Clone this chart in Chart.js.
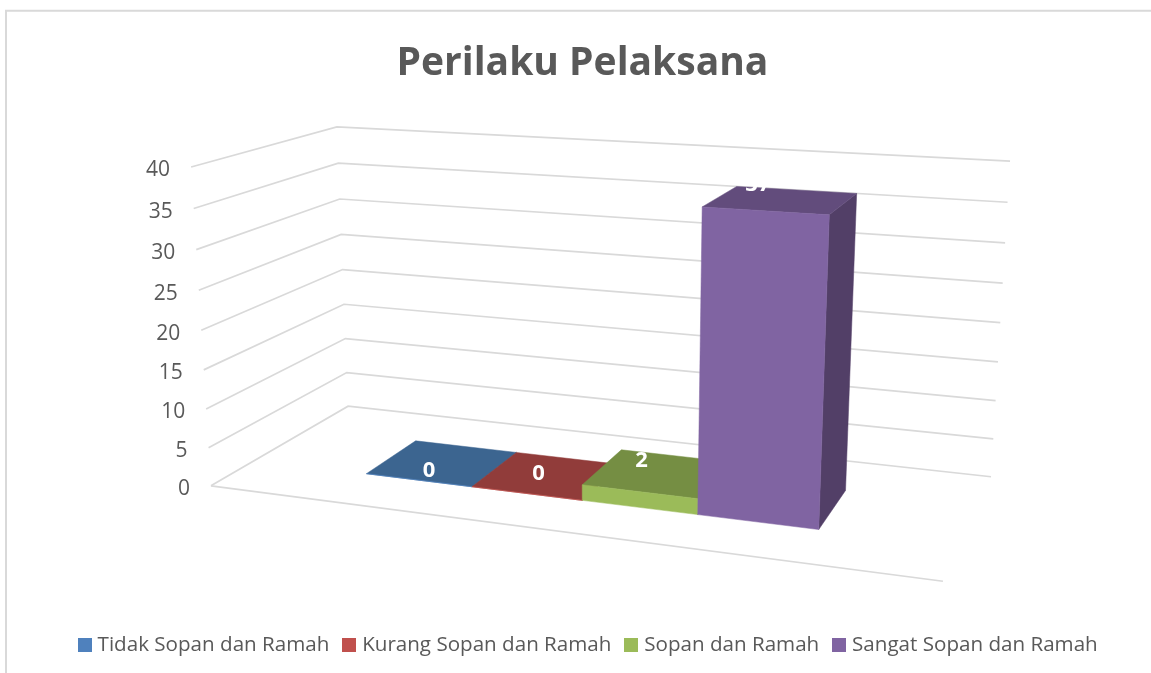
<!DOCTYPE html>
<html><head><meta charset="utf-8">
<style>html,body{margin:0;padding:0;background:#fff}#wrap{width:1151px;height:673px;position:relative}</style>
<script src="https://cdn.jsdelivr.net/npm/chart.js@4"></script>
</head><body><div id="wrap"><canvas id="c" width="1151" height="673"></canvas></div>
<script>
const titleText = 'Perilaku Pelaksana';
const categories = [''];
const seriesNames = ['Tidak Sopan dan Ramah','Kurang Sopan dan Ramah','Sopan dan Ramah','Sangat Sopan dan Ramah'];
const seriesValues = [0,0,2,37];
const frontColors = ['#4f81bd','#c0504d','#9bbb59','#8064a2'];
const topColors = ['#3c6590','#913c3a','#758e43','#624c7c'];
const sideColors = ['#325478','#793230','#617637','#523f67'];
const yMax = 40, yStep = 5;
const FONT = '"Open Sans", sans-serif';
const TEXT = '#595959', GRID = '#d9d9d9';

// Camera calibration: box coordinates (u across, v up, d into the page) seen at screen points
const view = [
 [0,0,0, 211,486],[0,0,1, 348,406],[1,0,1, 991,477],[1,0,0, 943,581],
 [0,1,0, 191,167],[0,1,1, 337,127],[1,1,1, 1010,161]
];
const depthFront = 0.295, depthBack = 0.69, uShift = 0;
const labelShift = [[10.5,-9],[12,-20],[2,-31],[-7,-26]];

function solveCamera(pts){
  const A=[],b=[];
  pts.forEach(([u,v,d,x,y])=>{
    x/=1000;y/=1000;
    A.push([u,v,d,1,0,0,0,0,-x*u,-x*v,-x*d]);b.push(x);
    A.push([0,0,0,0,u,v,d,1,-y*u,-y*v,-y*d]);b.push(y);
  });
  const n=11,M=[];
  for(let i=0;i<n;i++){M[i]=[];for(let j=0;j<n;j++){let s=0;A.forEach(r=>s+=r[i]*r[j]);M[i][j]=s+(i===j?1e-9:0);}
    let s=0;A.forEach((r,k)=>s+=r[i]*b[k]);M[i][n]=s;}
  for(let i=0;i<n;i++){let p=i;for(let k=i+1;k<n;k++)if(Math.abs(M[k][i])>Math.abs(M[p][i]))p=k;
    [M[i],M[p]]=[M[p],M[i]];
    for(let k=0;k<n;k++){if(k===i)continue;const f=M[k][i]/M[i][i];for(let j=i;j<=n;j++)M[k][j]-=f*M[i][j];}}
  return M.map((r,i)=>r[n]/r[i]);
}
const cam = solveCamera(view);
function project(u,v,d){
  const w=cam[8]*u+cam[9]*v+cam[10]*d+1;
  return [1000*(cam[0]*u+cam[1]*v+cam[2]*d+cam[3])/w,1000*(cam[4]*u+cam[5]*v+cam[6]*d+cam[7])/w];
}
function poly(ctx,pts,fill){
  ctx.beginPath();pts.forEach((p,i)=>i?ctx.lineTo(p[0],p[1]):ctx.moveTo(p[0],p[1]));ctx.closePath();
  ctx.fillStyle=fill;ctx.fill();ctx.strokeStyle=fill;ctx.lineWidth=.5;ctx.stroke();
}
function swatch(color){
  const s=document.createElement('canvas');s.width=14;s.height=14;
  const g=s.getContext('2d');g.fillStyle=color;g.fillRect(0,0,14,14);return s;
}
const frame3d = {
  id:'frame3d',
  afterLayout(chart){ chart.legend.left += 15; },
  beforeDraw(chart){
    const ctx=chart.ctx;ctx.save();
    ctx.strokeStyle=GRID;ctx.lineWidth=2;
    ctx.beginPath();ctx.moveTo(6,673);ctx.lineTo(6,10.75);ctx.lineTo(1151,10.75);ctx.stroke();
    ctx.restore();
  },
  beforeDatasetsDraw(chart){
    const ctx=chart.ctx,ys=chart.scales.y;
    const vn=val=>(ys.bottom-ys.getPixelForValue(val))/(ys.bottom-ys.top);
    ctx.save();ctx.strokeStyle=GRID;ctx.lineWidth=1.7;
    ys.ticks.forEach(t=>{
      const v=vn(t.value);
      const p=[project(0,v,0),project(0,v,1),project(1,v,1)];
      ctx.beginPath();ctx.moveTo(...p[0]);ctx.lineTo(...p[1]);ctx.lineTo(...p[2]);ctx.stroke();
      ctx.fillStyle=TEXT;ctx.font='21px '+FONT;ctx.textAlign='right';ctx.textBaseline='middle';
      ctx.fillText(t.label,p[0][0]-21,p[0][1]+3.5);
    });
    const f0=project(0,0,0),f1=project(1,0,0);
    ctx.beginPath();ctx.moveTo(...f0);ctx.lineTo(...f1);ctx.stroke();
    ctx.restore();
  },
  afterDatasetsDraw(chart){
    const ctx=chart.ctx,a=chart.chartArea,ys=chart.scales.y;
    const un=x=>(x-a.left)/(a.right-a.left)+uShift;
    const vn=y=>(ys.bottom-y)/(ys.bottom-ys.top);
    ctx.save();
    chart.data.datasets.forEach((ds,i)=>{
      const bar=chart.getDatasetMeta(i).data[0];
      const u0=un(bar.x-bar.width/2),u1=un(bar.x+bar.width/2),v0=vn(bar.base),v1=vn(bar.y);
      const d0=depthFront,d1=depthBack;
      poly(ctx,[project(u1,v0,d0),project(u1,v0,d1),project(u1,v1,d1),project(u1,v1,d0)],sideColors[i]);
      poly(ctx,[project(u0,v1,d0),project(u0,v1,d1),project(u1,v1,d1),project(u1,v1,d0)],topColors[i]);
      poly(ctx,[project(u0,v0,d0),project(u1,v0,d0),project(u1,v1,d0),project(u0,v1,d0)],frontColors[i]);
    });
    ctx.fillStyle='#fff';ctx.font='bold 22px '+FONT;ctx.textAlign='center';ctx.textBaseline='middle';
    chart.data.datasets.forEach((ds,i)=>{
      const bar=chart.getDatasetMeta(i).data[0];
      const p=project(un(bar.x),vn(bar.y),depthFront);
      ctx.fillText(String(ds.data[0]),p[0]+labelShift[i][0],p[1]+labelShift[i][1]);
    });
    ctx.restore();
  },
  beforeDatasetDraw(){return false;}
};
new Chart(document.getElementById('c'),{
  type:'bar',
  data:{labels:categories,datasets:seriesNames.map((n,i)=>({label:n,data:[seriesValues[i]],backgroundColor:frontColors[i],borderWidth:0}))},
  plugins:[frame3d],
  options:{
    responsive:false,animation:false,
    categoryPercentage:0.645,barPercentage:1,
    layout:{padding:{left:14,right:0,top:14,bottom:8}},
    scales:{
      x:{display:false},
      y:{min:0,max:yMax,ticks:{stepSize:yStep,display:false},grid:{display:false},border:{display:false}}
    },
    plugins:{
      title:{display:true,text:titleText,color:TEXT,font:{family:FONT,size:39,weight:'bold'},padding:{top:26,bottom:20}},
      legend:{position:'bottom',onClick:null,labels:{color:TEXT,font:{family:FONT,size:20.6},boxWidth:5,boxHeight:14,padding:17.5,usePointStyle:true,pointStyleWidth:5,
        generateLabels(chart){
          return Chart.defaults.plugins.legend.labels.generateLabels(chart).map((l,i)=>Object.assign(l,{pointStyle:swatch(frontColors[i])}));
        }}},
      tooltip:{enabled:false}
    }
  }
});
</script></body></html>
